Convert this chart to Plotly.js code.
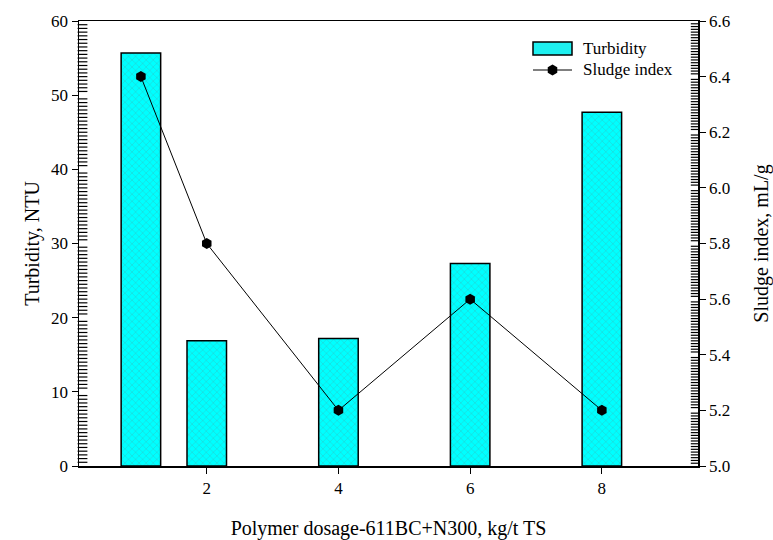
<!DOCTYPE html>
<html>
<head>
<meta charset="utf-8">
<script src="https://cdn.plot.ly/plotly-3.0.1.min.js"></script>
<style>
html,body{margin:0;padding:0;background:#fff;}
#chart{width:773px;height:540px;}
</style>
</head>
<body>
<div id="chart"></div>
<script>
// Data
const dosage = [1, 2, 4, 6, 8];
const turbidity = [55.7, 16.9, 17.2, 27.3, 47.7];
const sludgeIndex = [6.4, 5.8, 5.2, 5.6, 5.2];
const xTicks = [2, 4, 6, 8];
const legendLabels = ['Turbidity', 'Sludge index'];

const serif = "Liberation Serif";

// axis ranges
const xRange = [0.06, 9.46];
const yRange = [0, 60];
const y2Range = [5.0, 6.6];

// plot geometry (pixels)
const W = 773, H = 540, ML = 79, MR = 75, MT = 21, MB = 74;
const PW = W - ML - MR, PH = H - MT - MB;
const px2x = p => (p - ML) / PW;
const px2y = p => (H - MB - p) / PH;
const xUnitsPerPx = (xRange[1] - xRange[0]) / PW;

// minor tick positions (axis decoration)
const minorL = [], minorR = [];
for (let i = 1; i < 120; i++) { if (i % 20 !== 0) minorL.push(yRange[0] + i * 0.5); }
for (let i = 1; i < 160; i++) { if (i % 20 !== 0) minorR.push(+(y2Range[0] + i * 0.01).toFixed(2)); }

const traces = [
  {
    type: 'bar',
    name: legendLabels[0],
    x: dosage,
    y: turbidity,
    width: 0.6,
    marker: {
      color: '#00FFFF',
      line: {color: '#000', width: 1.5},
      pattern: {shape: 'x', bgcolor: '#00FFFF', fgcolor: '#38b8b8', size: 5, solidity: 0.14}
    },
    yaxis: 'y'
  },
  {
    type: 'scatter', mode: 'markers', yaxis: 'y', showlegend: false, hoverinfo: 'skip', cliponaxis: false,
    x: minorL.map(() => xRange[0] + 3.5 * xUnitsPerPx), y: minorL,
    marker: {symbol: 'line-ew', size: 7, color: '#000', line: {color: '#000', width: 1.2}}
  },
  {
    type: 'scatter', mode: 'markers', yaxis: 'y2', showlegend: false, hoverinfo: 'skip', cliponaxis: false,
    x: minorR.map(() => xRange[1] - 3 * xUnitsPerPx), y: minorR,
    marker: {symbol: 'line-ew', size: 6, color: '#000', line: {color: '#000', width: 1.2}}
  },
  {
    type: 'scatter',
    mode: 'lines+markers',
    name: legendLabels[1],
    x: dosage,
    y: sludgeIndex,
    line: {color: '#000', width: 1},
    marker: {symbol: 'hexagon', size: 11, color: '#000'},
    yaxis: 'y2'
  }
];

// custom legend
const shapes = [];
const lx0 = 533, lx1 = 572, ly1 = 48.5, ly2 = 70;
shapes.push({type: 'rect', xref: 'paper', yref: 'paper', x0: px2x(lx0), x1: px2x(lx1), y0: px2y(ly1 - 6.5), y1: px2y(ly1 + 6.5),
  fillcolor: '#1ef0f0', line: {color: '#000', width: 1.5}});
shapes.push({type: 'line', xref: 'paper', yref: 'paper', x0: px2x(lx0), x1: px2x(lx1), y0: px2y(ly2), y1: px2y(ly2), line: {color: '#000', width: 1}});
(function () {
  const cx = (lx0 + lx1) / 2, cy = ly2, r = 5.5;
  let d = '';
  for (let k = 0; k < 6; k++) {
    const a = Math.PI / 2 + k * Math.PI / 3;
    const X = px2x(cx + r * Math.cos(a)), Y = px2y(cy - r * Math.sin(a));
    d += (k === 0 ? 'M' : 'L') + X + ',' + Y;
  }
  d += 'Z';
  shapes.push({type: 'path', xref: 'paper', yref: 'paper', path: d, fillcolor: '#000', line: {color: '#000', width: 0}});
})();

const annotations = [
  {xref: 'paper', yref: 'paper', x: px2x(581), y: px2y(ly1), text: legendLabels[0], showarrow: false, xanchor: 'left', yanchor: 'middle', font: {family: serif, size: 17, color: '#000'}},
  {xref: 'paper', yref: 'paper', x: px2x(581), y: px2y(ly2), text: legendLabels[1], showarrow: false, xanchor: 'left', yanchor: 'middle', font: {family: serif, size: 17, color: '#000'}}
];

const layout = {
  width: W,
  height: H,
  margin: {l: ML, r: MR, t: MT, b: MB},
  paper_bgcolor: '#fff',
  plot_bgcolor: '#fff',
  font: {family: serif, size: 17, color: '#000'},
  showlegend: false,
  shapes: shapes,
  annotations: annotations,
  xaxis: {
    range: xRange,
    tickvals: xTicks,
    ticks: 'outside', ticklen: 6, tickwidth: 1, tickcolor: '#000',
    showline: true, linecolor: '#000', linewidth: 1.5, mirror: true,
    showgrid: false, zeroline: false,
    tickfont: {family: serif, size: 17},
    title: {text: 'Polymer dosage-611BC+N300, kg/t TS', font: {family: serif, size: 20}, standoff: 25}
  },
  yaxis: {
    range: yRange,
    dtick: 10,
    ticks: 'outside', ticklen: 6, tickwidth: 1, tickcolor: '#000',
    showline: true, linecolor: '#000', linewidth: 1.5,
    showgrid: false, zeroline: false,
    tickfont: {family: serif, size: 17},
    title: {text: 'Turbidity, NTU', font: {family: serif, size: 20}, standoff: 6}
  },
  yaxis2: {
    overlaying: 'y',
    side: 'right',
    range: y2Range,
    dtick: 0.2,
    tickformat: '.1f',
    ticks: 'outside', ticklen: 6, tickwidth: 1, tickcolor: '#000',
    showline: true, linecolor: '#000', linewidth: 1.5,
    showgrid: false, zeroline: false,
    tickfont: {family: serif, size: 17},
    title: {text: 'Sludge index, mL/g', font: {family: serif, size: 20}, standoff: 24}
  }
};

Plotly.newPlot('chart', traces, layout, {displayModeBar: false, staticPlot: true});
</script>
</body>
</html>
